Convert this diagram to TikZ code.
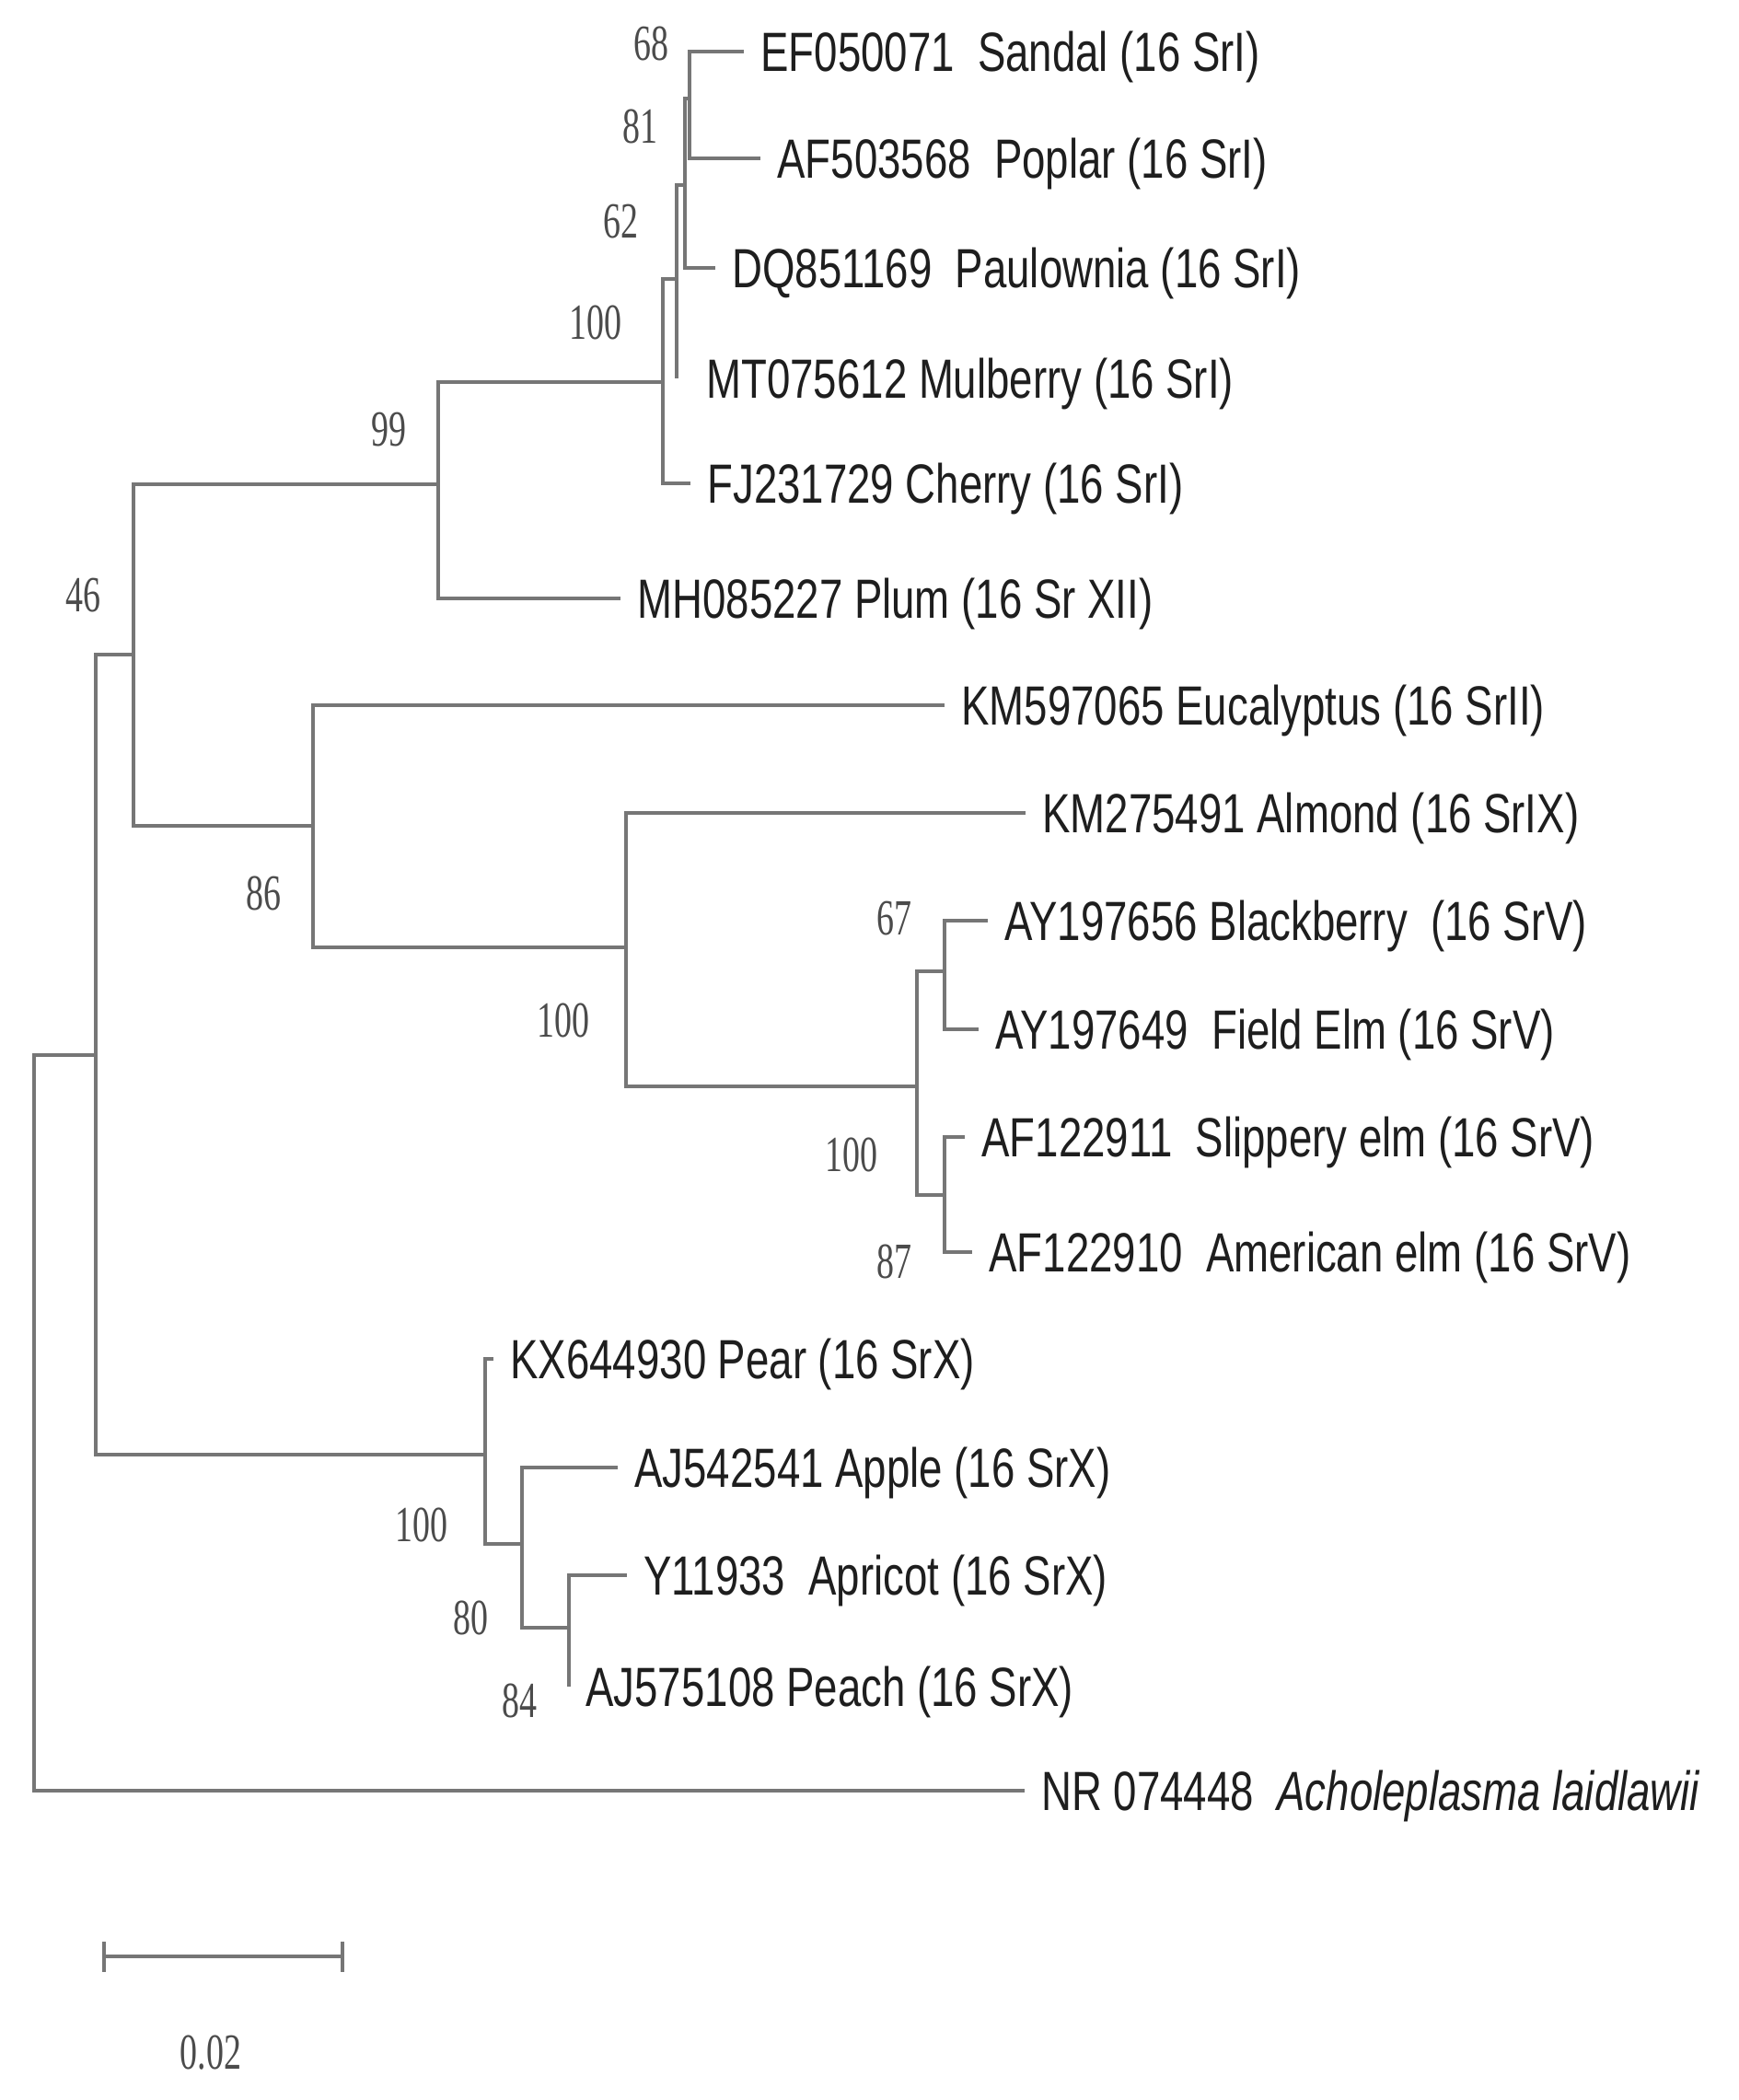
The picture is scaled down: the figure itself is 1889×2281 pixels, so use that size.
\documentclass[tikz,border=0pt]{standalone}
\usepackage{fontspec}
\usetikzlibrary{calc}
\newfontfamily\leaffont[FakeStretch=0.76]{Liberation Sans}
\newfontfamily\bsfont[FakeStretch=0.69]{Liberation Serif}
\definecolor{brgray}{RGB}{118,118,118}
\definecolor{txt}{RGB}{30,30,30}
\begin{document}
\begin{tikzpicture}[x=0.5pt,y=-0.5pt,
  br/.style={draw=brgray, line width=2.2pt, line join=miter},
  leaf/.style={anchor=west, inner xsep=9pt, inner ysep=0pt, text=txt,
    font=\leaffont\fontsize{30}{36}\selectfont, text height=21.5pt, text depth=0pt},
  bs/.style={anchor=center, inner sep=0pt, text=txt!80,
    font=\bsfont\fontsize{27.5}{32}\selectfont, text height=18.6pt, text depth=0pt}]
\useasboundingbox (0,0) rectangle (1889,2281);

% internal nodes
\coordinate (root) at (37,1545);
\coordinate (p1) at (104,1146);
\coordinate (n46) at (145,711);
\coordinate (n99) at (476,526);
\coordinate (n100a) at (720,415);
\coordinate (n62) at (735,303);
\coordinate (n81) at (744,201);
\coordinate (n68) at (749,107);
\coordinate (n86) at (340,897);
\coordinate (n100b) at (680,1029);
\coordinate (n100c) at (996,1180);
\coordinate (n67) at (1026,1055);
\coordinate (n87) at (1026,1298);
\coordinate (n100d) at (527,1580);
\coordinate (n80) at (567,1677);
\coordinate (n84) at (618,1768);
\coordinate (tipMul) at (735,411);

% leaves
\node[leaf] (sandal) at (808,56) {EF050071\ \ Sandal (16 SrI)};
\node[leaf] (poplar) at (826,172) {AF503568\ \ Poplar (16 SrI)};
\node[leaf] (paulownia) at (777,291) {DQ851169\ \ Paulownia (16 SrI)};
\node[leaf] (mulberry) at (749,411) {MT075612 Mulberry (16 SrI)};
\node[leaf] (cherry) at (750,525) {FJ231729 Cherry (16 SrI)};
\node[leaf] (plum) at (674,650) {MH085227 Plum (16 Sr XII)};
\node[leaf] (euc) at (1026,766) {KM597065 Eucalyptus (16 SrII)};
\node[leaf] (almond) at (1114,883) {KM275491 Almond (16 SrIX)};
\node[leaf] (blackberry) at (1073,1000) {AY197656 Blackberry\ \ (16 SrV)};
\node[leaf] (fieldelm) at (1063,1118) {AY197649\ \ Field Elm (16 SrV)};
\node[leaf] (slippery) at (1048,1235) {AF122911\ \ Slippery elm (16 SrV)};
\node[leaf] (american) at (1056,1360) {AF122910\ \ American elm (16 SrV)};
\node[leaf] (pear) at (536,1476) {KX644930 Pear (16 SrX)};
\node[leaf] (apple) at (671,1594) {AJ542541 Apple (16 SrX)};
\node[leaf] (apricot) at (681,1711) {Y11933\ \ Apricot (16 SrX)};
\node[leaf] (peach) at (618,1832) {AJ575108 Peach (16 SrX)};
\node[leaf] (outgroup) at (1113,1945) {NR 074448\ \ \textit{Acholeplasma laidlawii}};

% branches
\draw[br] (root) |- (p1);
\draw[br] (root) |- (outgroup.west);
\draw[br] (p1) |- (n46);
\draw[br] (p1) |- (n100d);
\draw[br] (n46) |- (n99);
\draw[br] (n46) |- (n86);
\draw[br] (n99) |- (n100a);
\draw[br] (n99) |- (plum.west);
\draw[br] (n100a) |- (n62);
\draw[br] (n100a) |- (cherry.west);
\draw[br] (n62) |- (n81);
\draw[br] (n62) |- (tipMul);
\draw[br] (n81) |- (n68);
\draw[br] (n81) |- (paulownia.west);
\draw[br] (n68) |- (sandal.west);
\draw[br] (n68) |- (poplar.west);
\draw[br] (n86) |- (euc.west);
\draw[br] (n86) |- (n100b);
\draw[br] (n100b) |- (almond.west);
\draw[br] (n100b) |- (n100c);
\draw[br] (n100c) |- (n67);
\draw[br] (n100c) |- (n87);
\draw[br] (n67) |- (blackberry.west);
\draw[br] (n67) |- (fieldelm.west);
\draw[br] (n87) |- (slippery.west);
\draw[br] (n87) |- (american.west);
\draw[br] (n100d) |- (pear.west);
\draw[br] (n100d) |- (n80);
\draw[br] (n80) |- (apple.west);
\draw[br] (n80) |- (n84);
\draw[br] (n84) |- (apricot.west);
\draw[br] (n84) |- (peach.west);

% bootstrap values
\node[bs] (b68) at (707,47) {68};
\node[bs] (b81) at (695,137) {81};
\node[bs] (b62) at (674,240) {62};
\node[bs] (b100a) at (647,350) {100};
\node[bs] (b99) at (422,466) {99};
\node[bs] (b46) at (90,646) {46};
\node[bs] (b86) at (286,970) {86};
\node[bs] (b100b) at (612,1108) {100};
\node[bs] (b67) at (971,997) {67};
\node[bs] (b100c) at (925,1254) {100};
\node[bs] (b87) at (971,1370) {87};
\node[bs] (b100d) at (458,1656) {100};
\node[bs] (b80) at (511,1757) {80};
\node[bs] (b84) at (564,1847) {84};

% scale bar
\coordinate (sbL) at (113,2125);
\coordinate (sbR) at (372,2125);
\draw[br] (sbL) -- (sbR);
\draw[br] ($(sbL)+(0,-16)$) -- ($(sbL)+(0,17)$);
\draw[br] ($(sbR)+(0,-16)$) -- ($(sbR)+(0,17)$);
\node[bs] (scalelab) at (229,2229) {0.02};
\end{tikzpicture}
\end{document}
